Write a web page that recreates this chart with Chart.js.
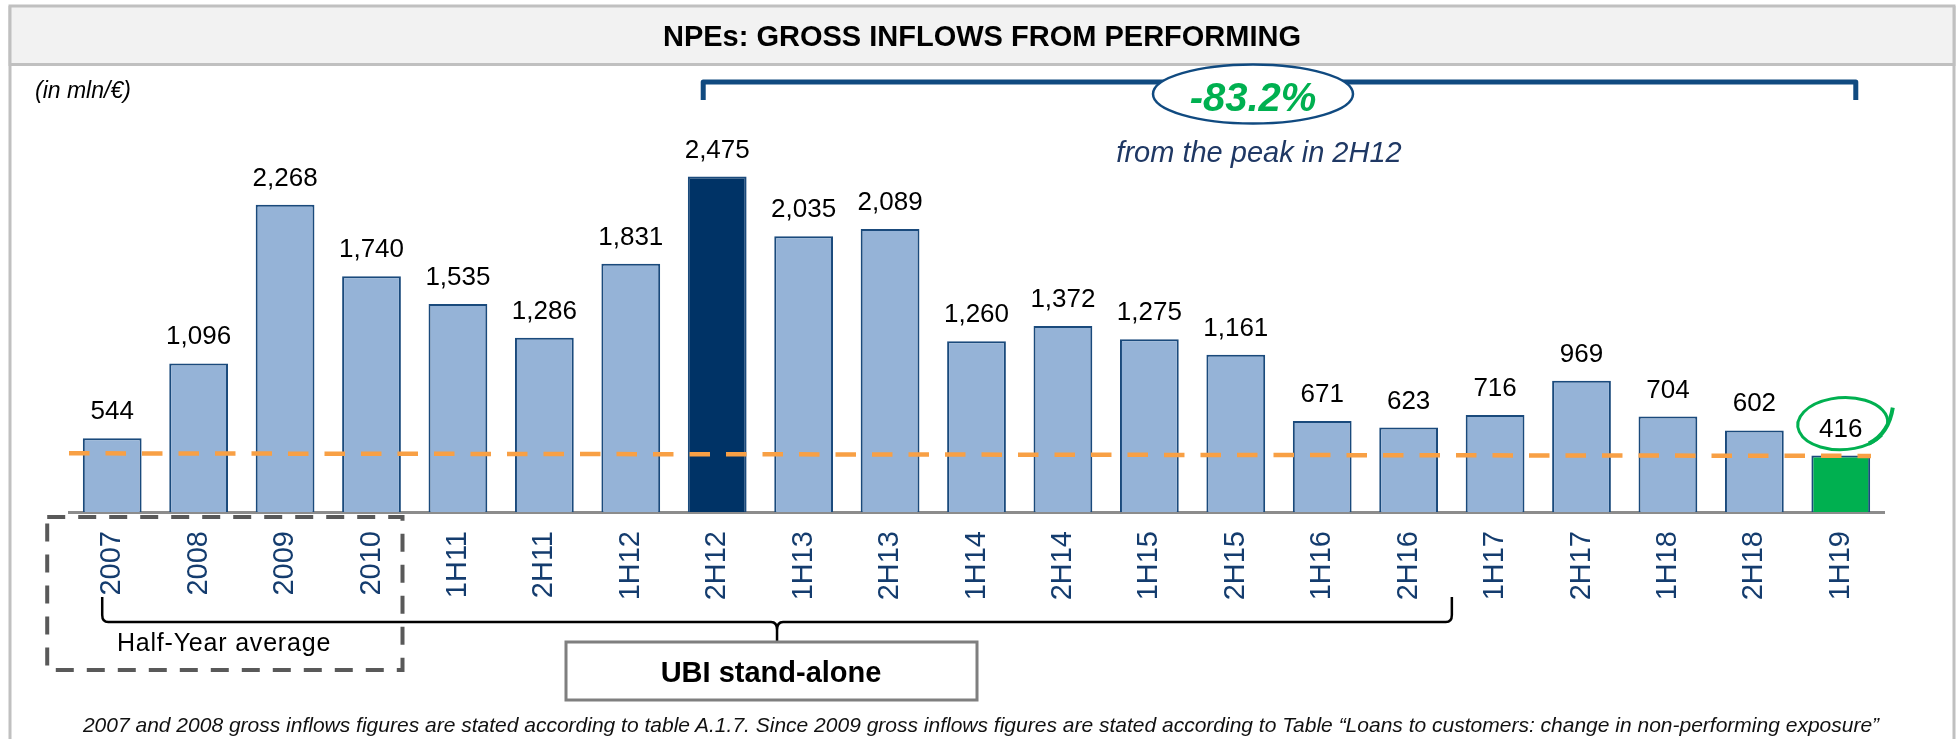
<!DOCTYPE html>
<html>
<head>
<meta charset="utf-8">
<script src="https://cdn.jsdelivr.net/npm/chart.js@4.4.1/dist/chart.umd.min.js"></script>
<style>
  html, body { margin: 0; padding: 0; background: #fff; }
  #wrap { position: relative; width: 1957px; height: 739px; overflow: hidden; font-family: 'Liberation Sans', Arial, sans-serif; }
  #chart { position: absolute; left: 0; top: 0; }
  .txt { position: absolute; white-space: nowrap; line-height: 1; transform: translate(-50%, -50%); }
</style>
</head>
<body>
<div id="wrap">
  <canvas id="chart" width="1957" height="739"></canvas>
  <div class="txt" style="left:982px;top:36px;font-size:29px;font-weight:bold;color:#000;">NPEs: GROSS INFLOWS FROM PERFORMING</div>
  <div class="txt" style="left:35px;top:90px;transform:translate(0,-50%);font-size:23px;font-style:italic;color:#000;">(in mln/€)</div>
  <div class="txt" id="change" style="left:1253px;top:97px;font-size:40px;font-weight:bold;font-style:italic;color:#00B050;">-83.2%</div>
  <div class="txt" id="peakNote" style="left:1259px;top:152px;font-size:29px;font-style:italic;color:#1F3864;">from the peak in 2H12</div>
  <div class="txt" style="left:224px;top:642px;font-size:25px;letter-spacing:0.8px;color:#000;">Half-Year average</div>
  <div class="txt" style="left:771px;top:672px;font-size:29px;font-weight:bold;color:#000;">UBI stand-alone</div>
  <div class="txt" style="left:981px;top:724px;font-size:21px;font-style:italic;color:#111;">2007 and 2008 gross inflows figures are stated according to table A.1.7. Since 2009 gross inflows figures are stated according to Table “Loans to customers: change in non-performing exposure”</div>
</div>
<script>
  // values in mln/€
  const periods = ['2007', '2008', '2009', '2010', '1H11', '2H11', '1H12', '2H12', '1H13', '2H13', '1H14',
                   '2H14', '1H15', '2H15', '1H16', '2H16', '1H17', '2H17', '1H18', '2H18', '1H19'];
  const grossInflows = [544, 1096, 2268, 1740, 1535, 1286, 1831, 2475, 2035, 2089, 1260,
                        1372, 1275, 1161, 671, 623, 716, 969, 704, 602, 416];
  // orange dashed reference line: level at the left and at the right end
  const averageLine = [433, 414];
  const yMax = 2900;

  const peakIdx = grossInflows.indexOf(Math.max(...grossInflows));
  const lastIdx = grossInflows.length - 1;
  const peak = grossInflows[peakIdx];
  const last = grossInflows[lastIdx];

  document.getElementById('change').textContent = ((last - peak) / peak * 100).toFixed(1) + '%';
  document.getElementById('peakNote').textContent = 'from the peak in ' + periods[peakIdx];

  const barColors = grossInflows.map(function (v, i) {
    if (i === peakIdx) return '#003366';
    if (i === lastIdx) return '#00B050';
    return '#95B3D7';
  });

  function fmt(v) {
    return v.toLocaleString('en-US');
  }

  const framePlugin = {
    id: 'frame',
    beforeDraw: function (chart) {
      const ctx = chart.ctx;
      ctx.save();
      ctx.fillStyle = '#fff';
      ctx.fillRect(0, 0, chart.width, chart.height);
      ctx.strokeStyle = '#C0C0C0';
      ctx.lineWidth = 3;
      ctx.beginPath();
      ctx.moveTo(10, 6); ctx.lineTo(10, 739);
      ctx.moveTo(1954, 6); ctx.lineTo(1954, 739);
      ctx.stroke();
      ctx.fillStyle = '#F2F2F2';
      ctx.fillRect(10, 6, 1944, 58.5);
      ctx.strokeRect(10, 6, 1944, 58.5);
      ctx.restore();
    }
  };

  const overlayPlugin = {
    id: 'overlay',
    afterDatasetsDraw: function (chart) {
      const ctx = chart.ctx;
      const x = chart.scales.x;
      const y = chart.scales.y;
      const area = chart.chartArea;
      const bars = chart.getDatasetMeta(0).data;

      // dashed reference line
      ctx.save();
      ctx.strokeStyle = '#F8A045';
      ctx.lineWidth = 4.5;
      ctx.setLineDash([20.5, 16]);
      ctx.beginPath();
      ctx.moveTo(area.left, y.getPixelForValue(averageLine[0]));
      ctx.lineTo(area.right - 13, y.getPixelForValue(averageLine[1]));
      ctx.stroke();
      ctx.restore();

      // value labels
      ctx.save();
      ctx.fillStyle = '#000';
      ctx.font = '26px "Liberation Sans", Arial, sans-serif';
      ctx.textAlign = 'center';
      ctx.textBaseline = 'alphabetic';
      bars.forEach(function (bar, i) {
        ctx.fillText(fmt(grossInflows[i]), bar.x, bar.y - 19);
      });
      ctx.restore();

      // green ring around the latest value
      const lb = bars[lastIdx];
      const cx = lb.x + 2, cy = lb.y - 32;
      ctx.save();
      ctx.strokeStyle = '#00B050';
      ctx.lineWidth = 3;
      ctx.beginPath();
      ctx.ellipse(cx, cy, 45, 26, -0.05, 0.55, Math.PI * 2 + 0.1);
      ctx.stroke();
      ctx.lineWidth = 4;
      ctx.beginPath();
      ctx.moveTo(cx + 26, cy + 20);
      ctx.quadraticCurveTo(cx + 46, cy + 10, cx + 50, cy - 16);
      ctx.stroke();
      ctx.restore();

      // top bracket from the peak to the latest half
      const bx1 = x.getPixelForValue(peakIdx) - 14;
      const bx2 = x.getPixelForValue(lastIdx) + 15;
      ctx.save();
      ctx.strokeStyle = '#104A80';
      ctx.lineWidth = 5;
      ctx.lineJoin = 'round';
      ctx.beginPath();
      ctx.moveTo(bx1, 100);
      ctx.lineTo(bx1, 82);
      ctx.lineTo(bx2, 82);
      ctx.lineTo(bx2, 100);
      ctx.stroke();
      ctx.fillStyle = '#fff';
      ctx.lineWidth = 2.5;
      ctx.beginPath();
      ctx.ellipse(1253, 94, 100, 29.5, 0, 0, Math.PI * 2);
      ctx.fill();
      ctx.stroke();
      ctx.restore();

      // dashed box for the yearly figures
      ctx.save();
      ctx.strokeStyle = '#595959';
      ctx.lineWidth = 4;
      ctx.setLineDash([18, 13]);
      ctx.strokeRect(x.getPixelForValue(0) - 65, 517, x.getPixelForValue(3) - x.getPixelForValue(0) + 96, 153);
      ctx.restore();

      // brace under UBI stand-alone periods
      const l = x.getPixelForValue(0) - 10;
      const r = (x.getPixelForValue(15) + x.getPixelForValue(16)) / 2;
      const m = (l + r) / 2;
      ctx.save();
      ctx.strokeStyle = '#000';
      ctx.lineWidth = 2.5;
      ctx.beginPath();
      ctx.moveTo(l, 597);
      ctx.lineTo(l, 615);
      ctx.quadraticCurveTo(l, 622, l + 6, 622);
      ctx.lineTo(m - 6, 622);
      ctx.quadraticCurveTo(m, 622, m, 630);
      ctx.lineTo(m, 645);
      ctx.moveTo(m, 630);
      ctx.quadraticCurveTo(m, 622, m + 6, 622);
      ctx.lineTo(r - 6, 622);
      ctx.quadraticCurveTo(r, 622, r, 615);
      ctx.lineTo(r, 597);
      ctx.stroke();

      // UBI stand-alone box
      ctx.fillStyle = '#fff';
      ctx.fillRect(566, 642, 411, 58);
      ctx.strokeStyle = '#7F7F7F';
      ctx.lineWidth = 3;
      ctx.strokeRect(566, 642, 411, 58);
      ctx.restore();
    }
  };

  new Chart(document.getElementById('chart'), {
    type: 'bar',
    data: {
      labels: periods,
      datasets: [{
        data: grossInflows,
        backgroundColor: barColors,
        borderColor: '#1A4A7C',
        borderWidth: 2,
        barPercentage: 0.68,
        categoryPercentage: 1
      }]
    },
    options: {
      responsive: false,
      animation: false,
      layout: { padding: { left: 69, right: 73, top: 119, bottom: 107 } },
      plugins: {
        legend: { display: false },
        tooltip: { enabled: false }
      },
      scales: {
        x: {
          grid: { display: false, drawTicks: false },
          border: { display: true, color: '#8C8C8C', width: 3 },
          ticks: {
            color: '#143C6E',
            font: { size: 29, family: '"Liberation Sans", Arial, sans-serif' },
            minRotation: 90,
            maxRotation: 90,
            autoSkip: false,
            padding: 19
          },
          afterFit: function (scale) { scale.height = 120; }
        },
        y: { display: false, min: 0, max: yMax }
      }
    },
    plugins: [framePlugin, overlayPlugin]
  });
</script>
</body>
</html>
